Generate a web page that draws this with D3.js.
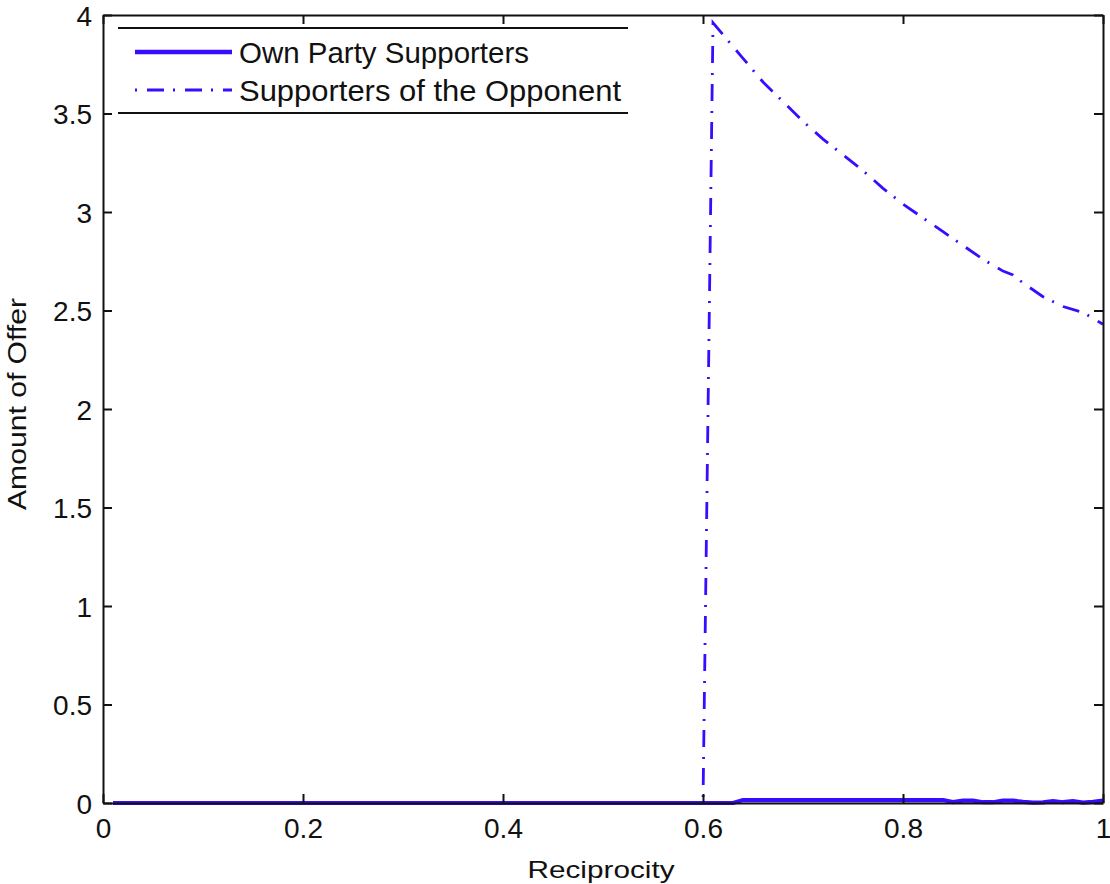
<!DOCTYPE html>
<html><head><meta charset="utf-8">
<script src="https://cdn.jsdelivr.net/npm/d3@7"></script>
<style>body{margin:0;background:#fff}svg{display:block}text{font-family:"Liberation Sans",Arial,sans-serif;fill:#111}</style>
</head><body><svg id="c" width="1110" height="884"></svg>
<script>
const xTicks = [0, 0.2, 0.4, 0.6, 0.8, 1];
const xTickLabels = ["0", "0.2", "0.4", "0.6", "0.8", "1"];
const yTicks = [0, 0.5, 1, 1.5, 2, 2.5, 3, 3.5, 4];
const yTickLabels = ["0", "0.5", "1", "1.5", "2", "2.5", "3", "3.5", "4"];
const seriesNames = ["Own Party Supporters", "Supporters of the Opponent"];

const ownX = [0.01, 0.63, 0.64, 0.84, 0.85, 0.86, 0.87, 0.88, 0.89, 0.90, 0.91, 0.92, 0.93, 0.94, 0.95, 0.96, 0.97, 0.98, 0.99, 1.00];
const ownY = [0, 0, 0.015, 0.015, 0.005, 0.012, 0.012, 0.004, 0.004, 0.012, 0.012, 0.006, 0.002, 0.003, 0.010, 0.004, 0.009, 0.002, 0.006, 0.012];

const oppX = [0.01, 0.60, 0.61, 0.62, 0.64, 0.66, 0.68, 0.70, 0.72, 0.74, 0.76, 0.78, 0.80, 0.82, 0.84, 0.86, 0.88, 0.90, 0.91, 0.92, 0.94, 0.96, 0.98, 1.00];
const oppY = [0, 0, 3.96, 3.90, 3.78, 3.66, 3.56, 3.46, 3.37, 3.29, 3.21, 3.12, 3.04, 2.97, 2.90, 2.83, 2.76, 2.70, 2.68, 2.64, 2.57, 2.52, 2.49, 2.43];

const svg = d3.select("#c");
const L = 103, R = 1103, T = 15, B = 803;
const x = d3.scaleLinear().domain([0, 1]).range([L, R]);
const y = d3.scaleLinear().domain([0, 4]).range([B, T]);
const blue = "#3a0cff";

// data lines
const line = d3.line().x(d => x(d[0])).y(d => y(d[1]));
svg.append("path").datum(oppX.map((v, i) => [v, oppY[i]]))
  .attr("d", line).attr("fill", "none").attr("stroke", blue)
  .attr("stroke-width", 2.8).attr("stroke-dasharray", "17,9,2,10");
svg.append("path").datum(ownX.map((v, i) => [v, ownY[i]]))
  .attr("d", line).attr("fill", "none").attr("stroke", blue)
  .attr("stroke-width", 4.2);

// axes
const tickLen = 9;
const gx = svg.append("g").attr("transform", `translate(0,${B})`)
  .call(d3.axisBottom(x).tickValues(xTicks).tickFormat((d, i) => xTickLabels[i]).tickSizeInner(-tickLen).tickSizeOuter(0));
gx.selectAll(".tick text").attr("y", 35).attr("dy", 0);
const gxt = svg.append("g").attr("transform", `translate(0,${T})`)
  .call(d3.axisTop(x).tickValues(xTicks).tickFormat("").tickSizeInner(-tickLen).tickSizeOuter(0));
const gy = svg.append("g").attr("transform", `translate(${L},0)`)
  .call(d3.axisLeft(y).tickValues(yTicks).tickFormat((d, i) => yTickLabels[i]).tickSizeInner(-tickLen).tickSizeOuter(0).tickPadding(11));
const gyr = svg.append("g").attr("transform", `translate(${R},0)`)
  .call(d3.axisRight(y).tickValues(yTicks).tickFormat("").tickSizeInner(-tickLen).tickSizeOuter(0));
[gx, gxt, gy, gyr].forEach(g => {
  g.selectAll(".domain").attr("stroke", "#111").attr("stroke-width", 2);
  g.selectAll(".tick line").attr("stroke", "#111").attr("stroke-width", 2);
  g.selectAll("text").style("font-size", "28px").attr("fill", "#111");
});
gy.selectAll("text").attr("dy", "0.36em");

// axis titles
svg.append("text").attr("x", 601).attr("y", 878).attr("text-anchor", "middle")
  .style("font-size", "24px").attr("textLength", 147).attr("lengthAdjust", "spacingAndGlyphs").text("Reciprocity");
svg.append("text").attr("transform", "translate(26,404) rotate(-90)").attr("text-anchor", "middle")
  .style("font-size", "25px").attr("textLength", 212).attr("lengthAdjust", "spacingAndGlyphs").text("Amount of Offer");

// legend
const lg = svg.append("g");
lg.append("rect").attr("x", 118).attr("y", 28).attr("width", 510).attr("height", 85).attr("fill", "#fff");
lg.append("line").attr("x1", 118).attr("x2", 628).attr("y1", 28).attr("y2", 28).attr("stroke", "#111").attr("stroke-width", 2);
lg.append("line").attr("x1", 118).attr("x2", 628).attr("y1", 113).attr("y2", 113).attr("stroke", "#111").attr("stroke-width", 2);
const rows = [52, 90];
const legendWidths = [290, 382];
lg.append("line").attr("x1", 135).attr("x2", 232).attr("y1", rows[0]).attr("y2", rows[0]).attr("stroke", blue).attr("stroke-width", 4.5);
lg.append("line").attr("x1", 135).attr("x2", 232).attr("y1", rows[1]).attr("y2", rows[1]).attr("stroke", blue).attr("stroke-width", 2.8).attr("stroke-dasharray", "2,10,17,9");
seriesNames.forEach((n, i) => {
  lg.append("text").attr("x", 239).attr("y", rows[i]).attr("dy", "0.36em").style("font-size", "30px")
    .attr("textLength", legendWidths[i]).attr("lengthAdjust", "spacingAndGlyphs").text(n);
});
</script></body></html>
